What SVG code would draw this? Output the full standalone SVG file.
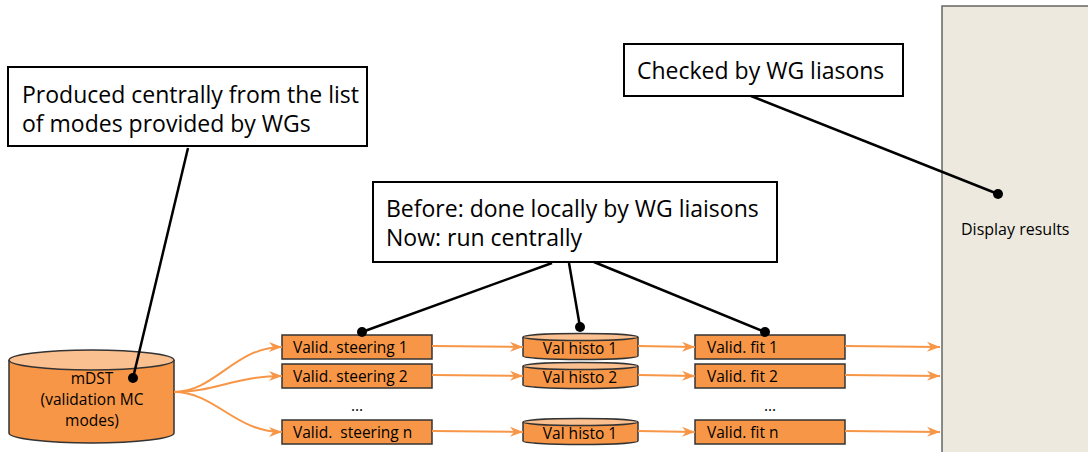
<svg xmlns="http://www.w3.org/2000/svg" width="1088" height="452" viewBox="0 0 1088 452">
<style>
.note{fill:#fff;stroke:#000;stroke-width:2}
.big{font-family:"Open Sans","Noto Sans",sans-serif;font-size:23px;fill:#000}
.sm{font-family:"Open Sans","Noto Sans",sans-serif;font-size:15.5px;fill:#000}
.md{font-family:"Open Sans","Noto Sans",sans-serif;font-size:15.5px;fill:#000}
.box{fill:#f79646;stroke:#333;stroke-width:1.5}
.top{fill:#fac090;stroke:#333;stroke-width:1.5}
.flow{fill:none;stroke:#f79646;stroke-width:2;marker-end:url(#ah)}
.lead{fill:none;stroke:#000;stroke-width:2.5}
.dot{fill:#000}
</style>
<defs>
<marker id="ah" markerWidth="14" markerHeight="12" refX="13" refY="6" orient="auto" markerUnits="userSpaceOnUse">
<path d="M0,1 L13,6 L0,11 L4,6 z" fill="#f79646"/>
</marker>
</defs>
<g id="display">
<rect x="942" y="6" width="150" height="450" fill="#ede9df" stroke="#666" stroke-width="1.5"/>
<text class="sm" x="961" y="235" style="font-size:16px">Display results</text>
</g>
<g id="note-produced">
<rect class="note" x="8" y="67" width="359" height="79"/>
<text class="big" x="22" y="103">Produced centrally from the list</text>
<text class="big" x="22" y="132">of modes provided by WGs</text>
</g>
<g id="note-checked">
<rect class="note" x="624" y="44" width="279" height="52"/>
<text class="big" x="637" y="79">Checked by WG liasons</text>
</g>
<g id="note-before">
<rect class="note" x="373" y="182" width="404" height="80"/>
<text class="big" x="386" y="217">Before: done locally by WG liaisons</text>
<text class="big" x="386" y="246">Now: run centrally</text>
</g>
<g id="mdst">
<path class="box" d="M9,360 L9,433 A82.5,10 0 0 0 174,433 L174,360"/>
<ellipse class="top" cx="91.5" cy="360" rx="82.5" ry="10"/>
<text class="md" x="92" y="384" text-anchor="middle">mDST</text>
<text class="md" x="92" y="405" text-anchor="middle">(validation MC</text>
<text class="md" x="92" y="426" text-anchor="middle">modes)</text>
</g>
<g id="steer1"><rect class="box" x="282" y="335" width="150" height="24"/><text class="sm" x="293" y="353">Valid. steering 1</text></g>
<g id="steer2"><rect class="box" x="282" y="364" width="150" height="24"/><text class="sm" x="293" y="382">Valid. steering 2</text></g>
<g id="steern"><rect class="box" x="282" y="420" width="150" height="24"/><text class="sm" x="293" y="438" xml:space="preserve">Valid.  steering n</text></g>
<text class="sm" x="357" y="411" text-anchor="middle">...</text>
<g id="histo1">
<path class="box" d="M523,337 L523,356 A57.5,3.5 0 0 0 638,356 L638,337"/>
<ellipse class="top" cx="580.5" cy="337" rx="57.5" ry="3.5"/>
<text class="sm" x="580" y="354" text-anchor="middle">Val histo 1</text>
</g>
<g id="histo2">
<path class="box" d="M523,366 L523,385 A57.5,3.5 0 0 0 638,385 L638,366"/>
<ellipse class="top" cx="580.5" cy="366" rx="57.5" ry="3.5"/>
<text class="sm" x="580" y="383" text-anchor="middle">Val histo 2</text>
</g>
<g id="histon">
<path class="box" d="M523,422 L523,441 A57.5,3.5 0 0 0 638,441 L638,422"/>
<ellipse class="top" cx="580.5" cy="422" rx="57.5" ry="3.5"/>
<text class="sm" x="580" y="439" text-anchor="middle">Val histo 1</text>
</g>
<g id="fit1"><rect class="box" x="695" y="335" width="150" height="24"/><text class="sm" x="707" y="353">Valid. fit 1</text></g>
<g id="fit2"><rect class="box" x="695" y="364" width="150" height="24"/><text class="sm" x="707" y="382">Valid. fit 2</text></g>
<g id="fitn"><rect class="box" x="695" y="420" width="150" height="24"/><text class="sm" x="707" y="438">Valid. fit n</text></g>
<text class="sm" x="770" y="411" text-anchor="middle">...</text>
<g id="connectors">
<path class="flow" d="M174,392 C215,392 235,347 282,347"/>
<path class="flow" d="M174,392 C215,392 235,376 282,376"/>
<path class="flow" d="M174,392 C215,392 235,432 282,432"/>
<path class="flow" d="M432,346 L523,347"/>
<path class="flow" d="M432,375 L523,376"/>
<path class="flow" d="M432,431 L523,432"/>
<path class="flow" d="M638,346 L695,347"/>
<path class="flow" d="M638,375 L695,376"/>
<path class="flow" d="M638,431 L695,432"/>
<path class="flow" d="M845,346 L940,347"/>
<path class="flow" d="M845,375 L940,376"/>
<path class="flow" d="M845,431 L940,432"/>
<path class="lead" d="M188,148 L133,378"/>
<circle class="dot" cx="133" cy="378" r="5"/>
<path class="lead" d="M751,96 L998,194"/>
<circle class="dot" cx="998" cy="194" r="5"/>
<path class="lead" d="M552,263 L362,332"/>
<circle class="dot" cx="362" cy="332" r="5"/>
<path class="lead" d="M569,263 L580,327"/>
<circle class="dot" cx="580" cy="327" r="5"/>
<path class="lead" d="M594,262 L765,332"/>
<circle class="dot" cx="765" cy="332" r="5"/>
</g>
</svg>
